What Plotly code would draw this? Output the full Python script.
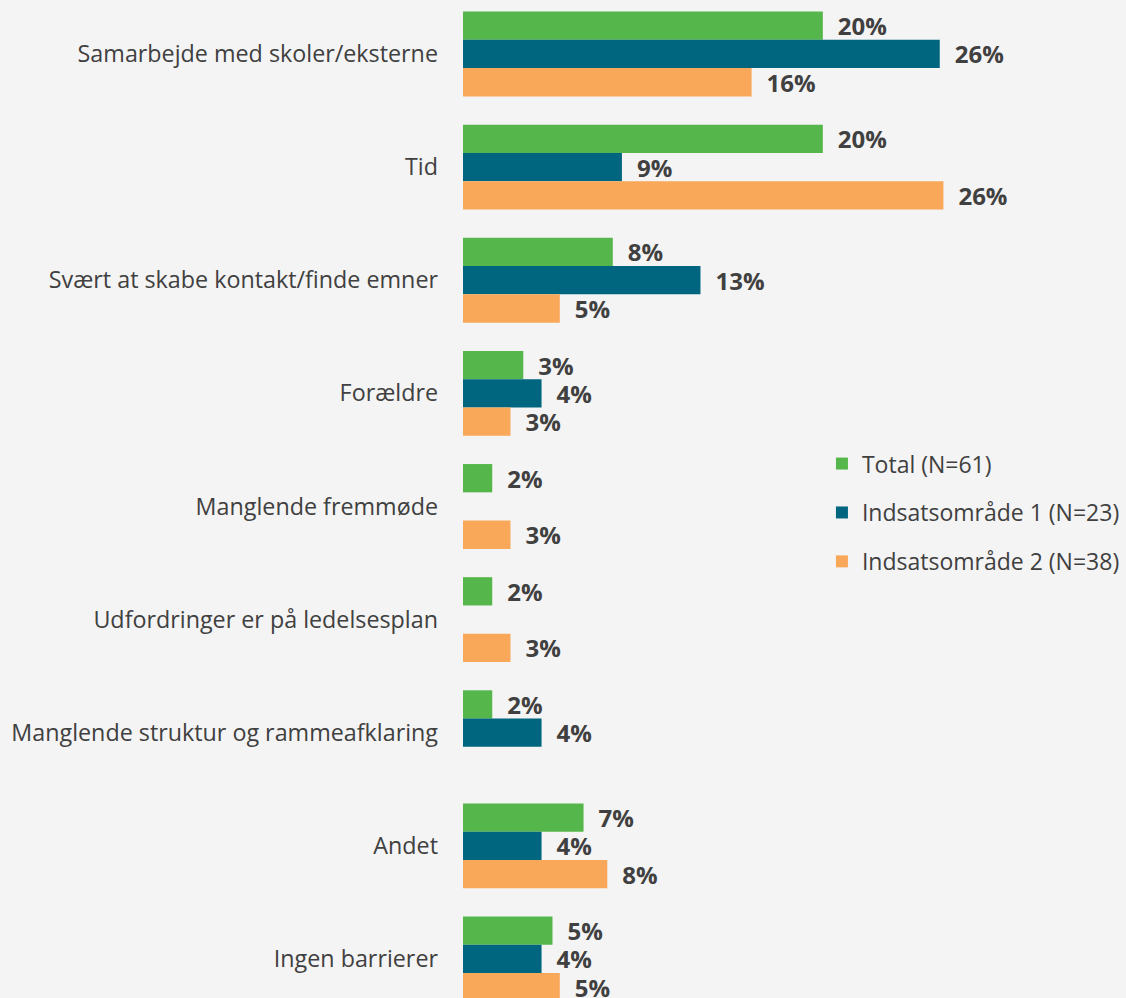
import plotly.graph_objects as go

categories = [
    "Samarbejde med skoler/eksterne",
    "Tid",
    "Svært at skabe kontakt/finde emner",
    "Forældre",
    "Manglende fremmøde",
    "Udfordringer er på ledelsesplan",
    "Manglende struktur og rammeafklaring",
    "Andet",
    "Ingen barrierer",
]
total = [19.7, 19.7, 8.2, 3.3, 1.6, 1.6, 1.6, 6.6, 4.9]
indsats1 = [26.1, 8.7, 13.0, 4.3, None, None, 4.3, 4.3, 4.3]
indsats2 = [15.8, 26.3, 5.3, 2.6, 2.6, 2.6, None, 7.9, 5.3]

series = [
    ("Total (N=61)", total, "#55B74B"),
    ("Indsatsområde 1 (N=23)", indsats1, "#00657F"),
    ("Indsatsområde 2 (N=38)", indsats2, "#F9A85A"),
]

TEXT = "#404040"
PAD = "\u2002"
FS = 23

fig = go.Figure()
for name, vals, color in series:
    fig.add_trace(
        go.Bar(
            y=categories,
            x=vals,
            orientation="h",
            name=name,
            legendgroup=name,
            marker=dict(color=color, line=dict(width=0)),
            text=[PAD + f"{v:.0f}%" if v else "" for v in vals],
            textposition="outside",
            constraintext="none",
            textfont=dict(family="Open Sans", size=24, color=TEXT, weight="bold"),
            cliponaxis=False,
            hoverinfo="x+name",
        )
    )

fig.update_layout(
    width=1126,
    height=998,
    paper_bgcolor="#F4F4F4",
    plot_bgcolor="#F4F4F4",
    barmode="group",
    bargap=0.25,
    bargroupgap=0,
    margin=dict(l=463, r=115, t=0, b=0),
    font=dict(family="Open Sans", size=FS, color=TEXT),
    xaxis=dict(range=[0, 30], visible=False, fixedrange=True),
    yaxis=dict(
        categoryorder="array",
        categoryarray=categories,
        range=[8.345, -0.477],
        showgrid=False,
        zeroline=False,
        showline=False,
        ticks="",
        ticklabelstandoff=24,
        automargin=False,
        tickfont=dict(family="Open Sans", size=23.3, color=TEXT),
    ),
    showlegend=True,
    legend=dict(
        x=0.655,
        y=0.557,
        xanchor="left",
        yanchor="top",
        bgcolor="rgba(0,0,0,0)",
        font=dict(family="Open Sans", size=FS, color=TEXT),
        tracegroupgap=16,
        traceorder="grouped",
    ),
)

fig.write_html(
    "out.html",
    config={"displayModeBar": False},
    post_script="document.body.style.margin='0';",
)
